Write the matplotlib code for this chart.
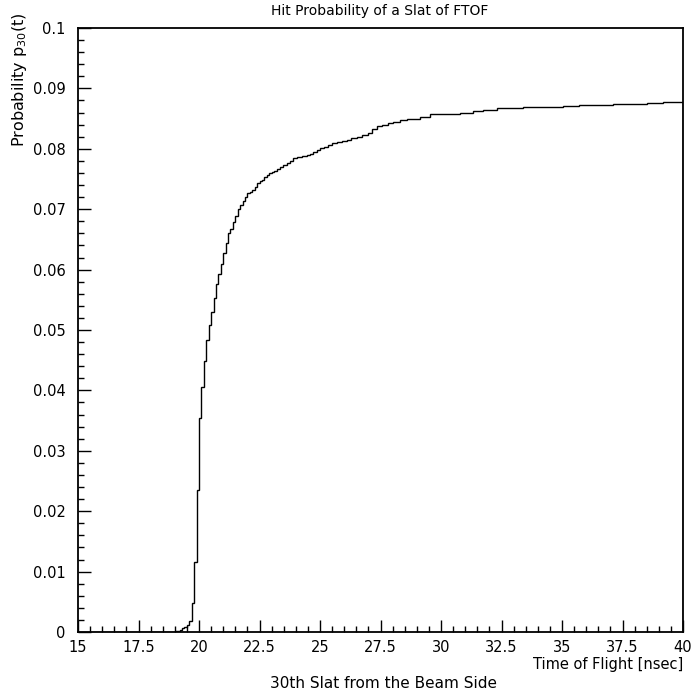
import numpy as np
import matplotlib
matplotlib.use("Agg")
import matplotlib.pyplot as plt
from matplotlib.ticker import MultipleLocator, FuncFormatter

# bin edges (nsec) and hit probability per bin
rise_edges = [15.0, 19.0, 19.1, 19.2, 19.3, 19.4, 19.5, 19.6, 19.7, 19.8, 19.9,
              20.0, 20.1, 20.2, 20.3, 20.4, 20.5, 20.6, 20.7, 20.8, 20.9,
              21.0, 21.1, 21.2, 21.3, 21.4, 21.5, 21.6, 21.7, 21.8, 21.9,
              22.0, 22.1, 22.2, 22.3, 22.4, 22.5, 22.6, 22.7, 22.8, 22.9,
              23.0, 23.1]
rise_prob = [0.0, 0.0001, 0.0002, 0.0004, 0.0006, 0.0008, 0.0012, 0.0018, 0.0048, 0.0116,
             0.0235, 0.0354, 0.0406, 0.0449, 0.0483, 0.0508, 0.0530, 0.0553, 0.0576, 0.0593,
             0.0610, 0.0627, 0.0644, 0.0660, 0.0668, 0.0679, 0.0688, 0.0700, 0.0707, 0.0714,
             0.0720, 0.0726, 0.0729, 0.0732, 0.0737, 0.0743, 0.0746, 0.0749, 0.0754, 0.0757,
             0.0760, 0.0762]

tail_edges = [23.21, 23.35, 23.48, 23.62, 23.76, 23.9, 24.04, 24.25, 24.45, 24.6, 24.73,
              24.87, 25.0, 25.17, 25.34, 25.5, 25.69, 25.9, 26.1, 26.3, 26.52, 26.75,
              27.0, 27.14, 27.34, 27.55, 27.8, 28.03, 28.3, 28.58, 28.85, 29.13, 29.55,
              29.96, 30.4, 30.79, 31.34, 31.75, 32.02, 32.3, 32.57, 33.4, 34.09, 35.05,
              35.7, 36.43, 37.1, 37.8, 38.5, 39.19, 40.0]
tail_prob = [0.0764, 0.0767, 0.0770, 0.0773, 0.0777, 0.0780, 0.0784, 0.0786, 0.0788, 0.0790,
             0.0791, 0.0795, 0.0798, 0.0801, 0.0803, 0.0806, 0.0809, 0.0811, 0.0813, 0.0815,
             0.0818, 0.0820, 0.0823, 0.0826, 0.0832, 0.0838, 0.0840, 0.0842, 0.0845, 0.0847,
             0.0849, 0.0850, 0.0853, 0.0857, 0.0857, 0.0858, 0.0859, 0.0862, 0.0864, 0.0865,
             0.0867, 0.0868, 0.0869, 0.0870, 0.0871, 0.0873, 0.0873, 0.0874, 0.0875, 0.0876,
             0.0877]

edges = np.array(rise_edges + tail_edges)
prob = np.array(rise_prob + tail_prob)

plt.rcParams["font.family"] = ["DejaVu Sans"]
plt.rcParams["font.size"] = 10

fig = plt.figure(figsize=(6.93, 6.92), dpi=100)
ax = fig.add_axes([78/693, 60/692, 605/693, 604/692])

ax.stairs(prob, edges, color="black", linewidth=1.0)

ax.set_xlim(15, 40)
ax.set_ylim(0, 0.1)
ax.xaxis.set_major_locator(MultipleLocator(2.5))
ax.xaxis.set_minor_locator(MultipleLocator(0.5))
ax.yaxis.set_major_locator(MultipleLocator(0.01))
ax.yaxis.set_minor_locator(MultipleLocator(0.002))
ax.xaxis.set_major_formatter(FuncFormatter(lambda v, p: f"{v:g}"))
ax.yaxis.set_major_formatter(FuncFormatter(lambda v, p: f"{v:.2f}".rstrip("0").rstrip(".") if v != 0 else "0"))
ax.tick_params(which="both", direction="in", top=False, right=False, width=1.0)
ax.tick_params(which="major", length=9, labelsize=10.5)
ax.tick_params(which="minor", length=4.5)
ax.tick_params(axis="x", which="major", pad=6)
ax.tick_params(axis="y", which="major", pad=9)
for s in ax.spines.values():
    s.set_linewidth(1.3)

fig.text(380/693, 1 - 11/692, "Hit Probability of a Slat of FTOF", ha="center", va="center", fontsize=10)
fig.text(683/693, 1 - 664/692, "Time of Flight [nsec]", ha="right", va="center", fontsize=10.5)
fig.text(383/693, 1 - 684/692, "30th Slat from the Beam Side", ha="center", va="center", fontsize=11)
fig.text(20/693, 1 - 12/692, "Probability p$_{30}$(t)", rotation=90, ha="center", va="top", fontsize=11.5)

fig.savefig("out.png", dpi=100)
